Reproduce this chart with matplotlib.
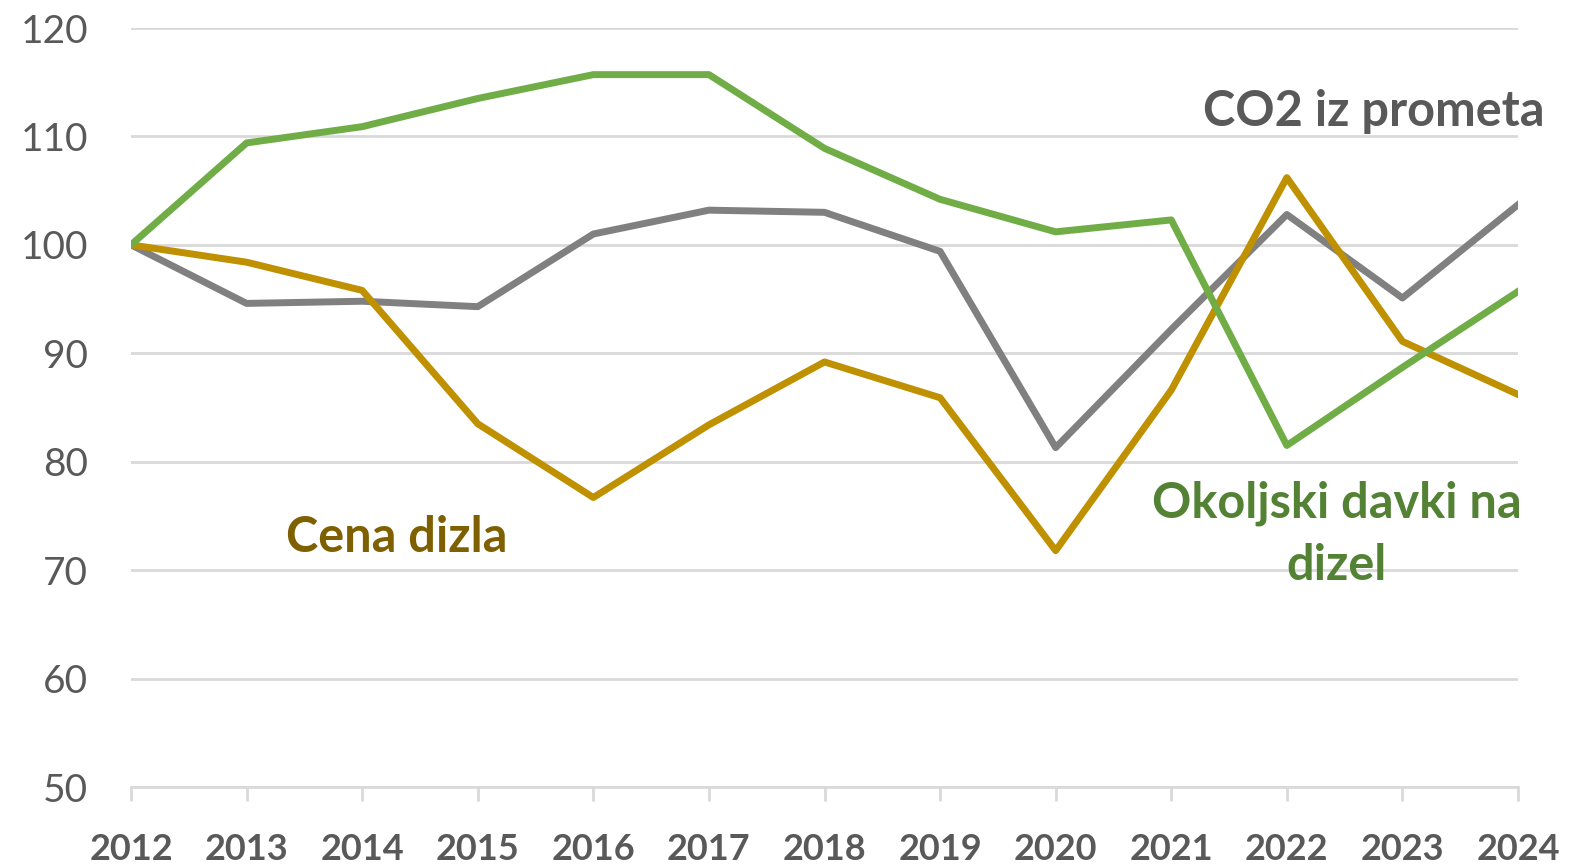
import matplotlib
matplotlib.use("Agg")
import matplotlib.pyplot as plt

plt.rcParams['font.family'] = ['Lato', 'DejaVu Sans']

years = list(range(2012, 2025))
davki = [100, 109.4, 110.9, 113.5, 115.7, 115.7, 108.9, 104.2, 101.2, 102.3, 81.5, 88.7, 95.7]
co2 = [100, 94.6, 94.8, 94.3, 101.0, 103.2, 103.0, 99.4, 81.3, 92.2, 102.8, 95.1, 103.7]
cena = [100, 98.4, 95.8, 83.5, 76.7, 83.4, 89.2, 85.9, 71.8, 86.6, 106.2, 91.1, 86.2]

fig = plt.figure(figsize=(15.72, 8.65), dpi=100)
ax = fig.add_axes([131/1572, 1 - 787/865, (1518-131)/1572, (787-28)/865])

ax.plot(years, co2, color='#808080', lw=5, solid_joinstyle='round', zorder=3)
ax.plot(years, cena, color='#BF9000', lw=5, solid_joinstyle='round', zorder=3)
ax.plot(years, davki, color='#70AD47', lw=5, solid_joinstyle='round', zorder=4)

ax.set_xlim(2012, 2024)
ax.set_ylim(50, 120)
ax.set_yticks(range(50, 121, 10))
ax.set_xticks(years)
ax.grid(axis='y', color='#D9D9D9', lw=2)
ax.set_axisbelow(True)
for s in ['top', 'right', 'left']:
    ax.spines[s].set_visible(False)
ax.spines['bottom'].set_color('#D9D9D9')
ax.spines['bottom'].set_linewidth(2)
ax.tick_params(axis='y', length=0, pad=31, labelsize=28, labelcolor='#595959')
ax.tick_params(axis='x', length=10, width=2, color='#D9D9D9', pad=23,
               labelsize=26, labelcolor='#595959')
for lab in ax.get_xticklabels():
    lab.set_fontweight('bold')

ax.text(2024.23, 112.3, 'CO2 iz prometa', ha='right', va='center', fontsize=35,
        fontweight='bold', color='#595959')
ax.text(2022.43, 73.3, 'Okoljski davki na\ndizel', ha='center', va='center', fontsize=35,
        fontweight='bold', color='#548235', linespacing=1.45)
ax.text(2014.3, 73.0, 'Cena dizla', ha='center', va='center', fontsize=35,
        fontweight='bold', color='#7F6000')

fig.savefig('out.png', dpi=100)
